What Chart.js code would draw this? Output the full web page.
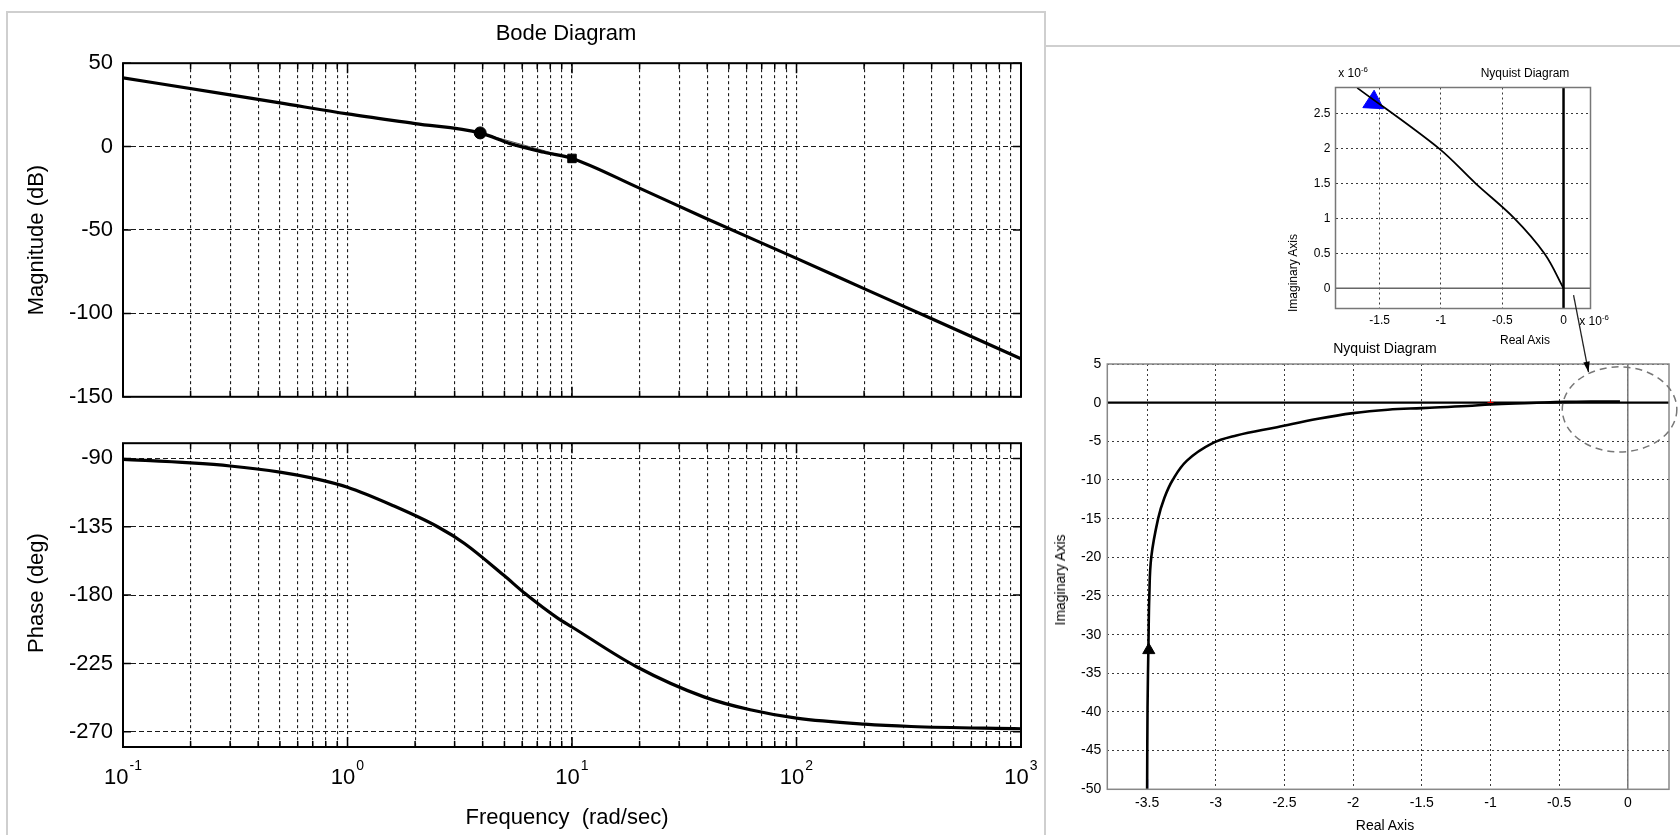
<!DOCTYPE html>
<html>
<head>
<meta charset="utf-8">
<script src="https://cdn.jsdelivr.net/npm/chart.js@4.4.1/dist/chart.umd.min.js"></script>
<style>
  body { margin: 0; background: #fff; width: 1680px; height: 835px; overflow: hidden; position: relative;
         font-family: "Liberation Sans", Arial, sans-serif; }
  canvas { position: absolute; }
  .lbl { position: absolute; white-space: pre; color: #000; transform: translate(-50%, -50%); line-height: 1; }
  .rot { transform: translate(-50%, -50%) rotate(-90deg); }
  .frame { position: absolute; border: 2px solid #cfcfcf; }
  sup { font-size: 0.65em; }
</style>
</head>
<body>
<div class="frame" style="left:6px;top:11px;width:1036px;height:860px;"></div>
<div class="frame" style="left:1044px;top:45px;width:700px;height:860px;"></div>

<canvas id="mag" width="1040" height="380" style="left:0;top:40px"></canvas>
<canvas id="phase" width="1040" height="415" style="left:0;top:420px"></canvas>
<canvas id="inset" width="360" height="290" style="left:1250px;top:50px"></canvas>
<canvas id="nyq" width="637" height="555" style="left:1043px;top:280px"></canvas>

<div class="lbl" style="left:566px;top:33px;font-size:22px">Bode Diagram</div>
<div class="lbl rot" style="left:36px;top:240px;font-size:22px">Magnitude (dB)</div>
<div class="lbl rot" style="left:36px;top:593px;font-size:22px">Phase (deg)</div>
<div class="lbl" style="left:567px;top:817px;font-size:22px">Frequency  (rad/sec)</div>

<div class="lbl" style="left:1353px;top:72px;font-size:12px">x 10<sup>-6</sup></div>
<div class="lbl" style="left:1525px;top:73px;font-size:12px">Nyquist Diagram</div>
<div class="lbl rot" style="left:1293px;top:273px;font-size:12px">Imaginary Axis</div>
<div class="lbl" style="left:1525px;top:340px;font-size:12px">Real Axis</div>
<div class="lbl" style="left:1594px;top:320px;font-size:12px">x 10<sup>-6</sup></div>

<div class="lbl" style="left:1385px;top:348px;font-size:14px">Nyquist Diagram</div>
<div class="lbl" style="left:1385px;top:825px;font-size:14px">Real Axis</div>
<div class="lbl rot" style="left:1060px;top:580px;font-size:14px">Imaginary Axis</div>

<script>
// ---- Bode data ----
const decades = [0.1, 1, 10, 100];
const minorSteps = [1, 2, 3, 4, 5, 6, 7, 8, 9];
const freqTicks = decades.flatMap(d => minorSteps.map(m => +(d * m).toPrecision(3))).concat([1000]);
const freqMajor = [0.1, 1, 10, 100, 1000];
const freqExponents = [-1, 0, 1, 2, 3];

const magTicks = [50, 0, -50, -100, -150];
const magFreq = [0.1, 0.3, 0.5, 1, 2, 3.9, 5.3, 7.5, 10, 19.3, 38.7, 100, 201, 389, 1000];
const magDb = [41.2, 31.0, 26.2, 19.6, 13.8, 8.2, 1.8, -3.4, -7.1, -24.0, -42.5, -67.0, -85.3, -102.5, -127.2];
const markFreq = [3.9, 10];
const markDb = [8.2, -7.1];

const phaseTicks = [-90, -135, -180, -225, -270];
const phaseFreq = [0.1, 0.2, 0.3, 0.5, 0.7, 1, 1.59, 2.52, 3.32, 4.97, 6.18, 8.6, 10, 19.3, 38.7, 62.2, 100, 201, 324, 1000];
const phaseDeg = [-90.6, -93, -95, -99, -103, -109, -121, -135, -146, -167, -179, -195, -201, -227, -247, -255.5, -261, -265, -266.5, -268];

// ---- Nyquist data ----
const nyqXTicks = [-3.5, -3, -2.5, -2, -1.5, -1, -0.5, 0];
const nyqYTicks = [5, 0, -5, -10, -15, -20, -25, -30, -35, -40, -45, -50];
const nyqRe = [-3.5, -3.497, -3.49, -3.484, -3.47, -3.42, -3.374, -3.314, -3.21, -3.03, -2.85, -2.554, -2.255, -2.0, -1.748, -1.5, -1.17, -1.0, -0.704, -0.459, -0.25, -0.057];
const nyqIm = [-50, -39.5, -30.9, -25, -20, -15, -12.3, -10, -7.5, -5.3, -4.25, -3.17, -2.08, -1.35, -0.91, -0.7, -0.44, -0.22, -0.05, 0.1, 0.15, 0.15];
const nyqStartRe = [-3.5, -3.5];
const nyqStartIm = [-50, -48.7];
const nyqArrowRe = [-3.488];
const nyqArrowIm = [-32];
const critRe = [-1];
const critIm = [0];

const insXTicks = [-1.5, -1, -0.5, 0];
const insYTicks = [0, 0.5, 1, 1.5, 2, 2.5];
const insRe = [-1.683, -1.017, -0.718, -0.401, -0.153, 0];
const insIm = [2.865, 2.0, 1.5, 1.0, 0.49, 0];
const insArrowRe = [-1.55];
const insArrowIm = [2.66];

const FONT = '"Liberation Sans", Arial, sans-serif';
Chart.defaults.font.family = FONT;
Chart.defaults.color = '#000';

const pts = (xs, ys) => xs.map((x, i) => ({ x: x, y: ys[i] }));

const deco = {
  id: 'deco',
  beforeDatasetsDraw(chart, args, o) {
    const { ctx, chartArea: a, scales: { x, y } } = chart;
    (o.zeroLines || []).forEach(z => {
      ctx.save();
      ctx.strokeStyle = z.color;
      ctx.lineWidth = z.width;
      ctx.beginPath();
      if (z.axis === 'x') {
        const px = x.getPixelForValue(z.value);
        ctx.moveTo(px, a.top); ctx.lineTo(px, a.bottom);
      } else {
        const py = y.getPixelForValue(z.value);
        ctx.moveTo(a.left, py); ctx.lineTo(a.right, py);
      }
      ctx.stroke();
      ctx.restore();
    });
  },
  afterDraw(chart, args, o) {
    const { ctx, chartArea: a, scales: { x, y } } = chart;
    ctx.save();
    if (o.innerTicks) {
      ctx.strokeStyle = '#000';
      ctx.lineWidth = 1.5;
      ctx.beginPath();
      x.ticks.forEach(t => {
        const px = x.getPixelForValue(t.value);
        const len = freqMajor.includes(t.value) ? 10 : 6;
        ctx.moveTo(px, a.bottom); ctx.lineTo(px, a.bottom - len);
        ctx.moveTo(px, a.top); ctx.lineTo(px, a.top + len);
      });
      y.ticks.forEach(t => {
        const py = y.getPixelForValue(t.value);
        ctx.moveTo(a.left, py); ctx.lineTo(a.left + 8, py);
        ctx.moveTo(a.right, py); ctx.lineTo(a.right - 8, py);
      });
      ctx.stroke();
    }
    ctx.strokeStyle = o.boxColor;
    ctx.lineWidth = o.boxWidth;
    ctx.strokeRect(a.left, a.top, a.right - a.left, a.bottom - a.top);

    if (o.powers) {
      ctx.fillStyle = '#000';
      ctx.textBaseline = 'middle';
      ctx.textAlign = 'left';
      freqExponents.forEach(e => {
        const px = x.getPixelForValue(Math.pow(10, e));
        ctx.font = '22px ' + FONT;
        const wBase = ctx.measureText('10').width;
        ctx.font = '14px ' + FONT;
        const wExp = ctx.measureText(String(e)).width;
        const start = px - (wBase + wExp + 1) / 2;
        ctx.font = '22px ' + FONT;
        ctx.fillText('10', start, o.powers.y);
        ctx.font = '14px ' + FONT;
        ctx.fillText(String(e), start + wBase + 1, o.powers.y - 12);
      });
    }
    if (o.ellipse) {
      const e = o.ellipse;
      const cx = x.getPixelForValue(e.cx), cy = y.getPixelForValue(e.cy);
      const rx = Math.abs(x.getPixelForValue(e.cx + e.rx) - cx);
      const ry = Math.abs(y.getPixelForValue(e.cy + e.ry) - cy);
      ctx.setLineDash([7, 5]);
      ctx.strokeStyle = '#777';
      ctx.lineWidth = 1.5;
      ctx.beginPath();
      ctx.ellipse(cx, cy, rx, ry, 0, 0, Math.PI * 2);
      ctx.stroke();
      ctx.setLineDash([]);
    }
    if (o.arrow) {
      const r = o.arrow;
      const x0 = x.getPixelForValue(r.x0), y0 = y.getPixelForValue(r.y0);
      const x1 = x.getPixelForValue(r.x1), y1 = y.getPixelForValue(r.y1);
      const ang = Math.atan2(y1 - y0, x1 - x0);
      ctx.strokeStyle = '#222';
      ctx.fillStyle = '#000';
      ctx.lineWidth = 1.3;
      ctx.beginPath();
      ctx.moveTo(x0, y0); ctx.lineTo(x1, y1);
      ctx.stroke();
      ctx.beginPath();
      ctx.moveTo(x1, y1);
      ctx.lineTo(x1 - 11 * Math.cos(ang - 0.3), y1 - 11 * Math.sin(ang - 0.3));
      ctx.lineTo(x1 - 11 * Math.cos(ang + 0.3), y1 - 11 * Math.sin(ang + 0.3));
      ctx.closePath();
      ctx.fill();
    }
    ctx.restore();
  }
};

function setTicks(list) {
  return s => { s.ticks = list.map(v => ({ value: v })); };
}

function bodeX() {
  return {
    type: 'logarithmic', min: 0.1, max: 1000,
    afterBuildTicks: setTicks(freqTicks),
    afterFit: s => { s.height = 0; },
    ticks: { display: false },
    grid: { color: '#1a1a1a', lineWidth: 1.1, drawTicks: false },
    border: { display: false, dash: [3, 3] }
  };
}

function bodeY(min, max, list) {
  return {
    type: 'linear', min: min, max: max,
    afterBuildTicks: setTicks(list),
    afterFit: s => { s.width = 123; },
    ticks: { color: '#000', font: { size: 22 }, padding: 10, callback: v => String(v) },
    grid: { color: '#1a1a1a', lineWidth: 1.1, drawTicks: false },
    border: { display: false, dash: [5, 3] }
  };
}

const common = {
  responsive: false,
  maintainAspectRatio: false,
  animation: false,
  events: []
};

new Chart(document.getElementById('mag'), {
  type: 'scatter',
  data: {
    datasets: [
      { data: pts(magFreq, magDb), showLine: true, borderColor: '#000', borderWidth: 3.2,
        pointRadius: 0, cubicInterpolationMode: 'monotone' },
      { data: pts(markFreq, markDb), showLine: true, borderColor: '#555', borderWidth: 1,
        pointStyle: ['circle', 'rect'], pointRadius: 6, pointBackgroundColor: '#000', pointBorderColor: '#000' }
    ]
  },
  options: Object.assign({}, common, {
    layout: { padding: { left: 0, right: 19, top: 22, bottom: 11 } },
    scales: { x: bodeX(), y: bodeY(-150, 50, magTicks) },
    plugins: { legend: { display: false }, tooltip: { enabled: false },
      deco: { boxColor: '#000', boxWidth: 2, innerTicks: true } }
  }),
  plugins: [deco]
});

new Chart(document.getElementById('phase'), {
  type: 'scatter',
  data: {
    datasets: [
      { data: pts(phaseFreq, phaseDeg), showLine: true, borderColor: '#000', borderWidth: 3.2,
        pointRadius: 0, cubicInterpolationMode: 'monotone' }
    ]
  },
  options: Object.assign({}, common, {
    layout: { padding: { left: 0, right: 19, top: 17, bottom: 88 } },
    scales: { x: bodeX(), y: bodeY(-280, -80, phaseTicks) },
    plugins: { legend: { display: false }, tooltip: { enabled: false },
      deco: { boxColor: '#000', boxWidth: 2, innerTicks: true, powers: { y: 358 } } }
  }),
  plugins: [deco]
});

function nyqScale(min, max, list, fit, size, pad) {
  return {
    type: 'linear', min: min, max: max,
    afterBuildTicks: setTicks(list),
    afterFit: fit,
    ticks: { color: '#000', font: { size: size }, padding: pad, callback: v => String(v) },
    grid: { color: '#3a3a3a', lineWidth: 1, drawTicks: false },
    border: { display: false, dash: [2, 3] }
  };
}

new Chart(document.getElementById('inset'), {
  type: 'scatter',
  data: {
    datasets: [
      { data: pts(insRe, insIm), showLine: true, borderColor: '#000', borderWidth: 1.8,
        pointRadius: 0, tension: 0.35 },
      { data: pts(insArrowRe, insArrowIm), pointStyle: 'triangle', pointRotation: 243, pointRadius: 12,
        pointBackgroundColor: '#0000ff', pointBorderColor: '#0000ff' }
    ]
  },
  options: Object.assign({}, common, {
    layout: { padding: { left: 0, right: 19.5, top: 37.5, bottom: 0 } },
    scales: {
      x: nyqScale(-1.86, 0.22, insXTicks, s => { s.height = 31.5; }, 12, 5),
      y: nyqScale(-0.29, 2.87, insYTicks, s => { s.width = 85.5; }, 12, 5)
    },
    plugins: { legend: { display: false }, tooltip: { enabled: false },
      deco: { boxColor: '#777', boxWidth: 1.5,
        zeroLines: [{ axis: 'y', value: 0, color: '#666', width: 1.5 },
                    { axis: 'x', value: 0, color: '#000', width: 2.5 }] } }
  }),
  plugins: [deco]
});

new Chart(document.getElementById('nyq'), {
  type: 'scatter',
  data: {
    datasets: [
      { data: pts(nyqRe, nyqIm), showLine: true, borderColor: '#000', borderWidth: 2.6,
        pointRadius: 0, tension: 0.4 },
      { data: pts(nyqStartRe, nyqStartIm), showLine: true, borderColor: '#0000ff', borderWidth: 2,
        pointRadius: 0 },
      { data: pts(nyqArrowRe, nyqArrowIm), pointStyle: 'triangle', pointRadius: 7,
        pointBackgroundColor: '#000', pointBorderColor: '#000' },
      { data: pts(critRe, critIm), pointStyle: 'cross', pointRadius: 3, borderWidth: 1,
        pointBorderColor: '#ff0000' }
    ]
  },
  options: Object.assign({}, common, {
    layout: { padding: { left: 0, right: 11, top: 84, bottom: 0 } },
    scales: {
      x: nyqScale(-3.79, 0.3, nyqXTicks, s => { s.height = 45.7; }, 14, 5),
      y: nyqScale(-50, 5, nyqYTicks, s => { s.width = 64.3; }, 14, 6)
    },
    plugins: { legend: { display: false }, tooltip: { enabled: false },
      deco: { boxColor: '#888', boxWidth: 1.5,
        zeroLines: [{ axis: 'x', value: 0, color: '#777', width: 1.5 },
                    { axis: 'y', value: 0, color: '#000', width: 2.2 }],
        ellipse: { cx: -0.06, cy: -0.87, rx: 0.417, ry: 5.5 },
        arrow: { x0: -0.395, y0: 13.9, x1: -0.286, y1: 3.94 } } }
  }),
  plugins: [deco]
});
</script>
</body>
</html>
